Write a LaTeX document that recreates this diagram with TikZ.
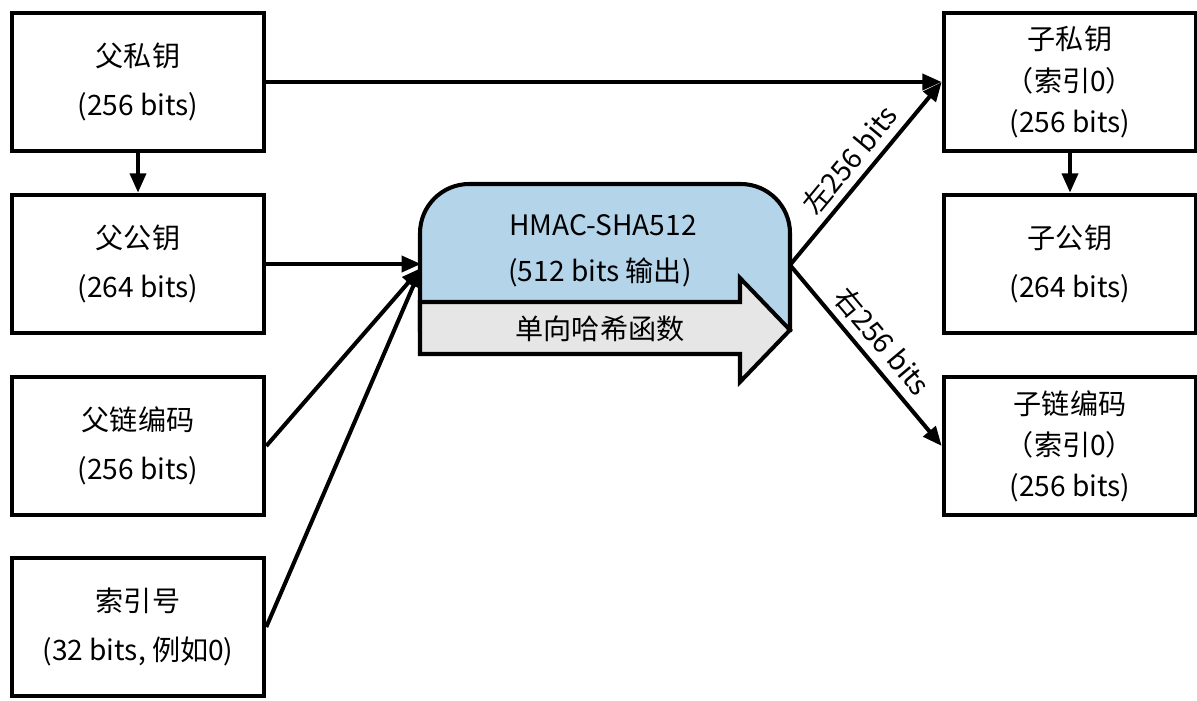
\documentclass[tikz,border=0pt]{standalone}
\usepackage{fontspec}
\setmainfont{Noto Sans CJK SC}
\usetikzlibrary{arrows.meta}
\definecolor{hblue}{RGB}{180,212,234}
\definecolor{hgray}{RGB}{230,230,230}
\begin{document}
\begin{tikzpicture}[x=0.02cm,y=-0.02cm,
  box/.style={draw, line width=2.6pt, minimum width=5.04cm, minimum height=2.76cm, align=center, inner sep=0pt},
  two/.style={font=\fontsize{16}{28}\selectfont},
  three/.style={font=\fontsize{16}{23.4}\selectfont},
  conn/.style={line width=2.3pt, -{Triangle[length=11pt,width=9pt]}},
  lbl/.style={font=\fontsize{16}{18}\selectfont, inner sep=4pt}]
\useasboundingbox (0,0) rectangle (1197,700);
% left column
\node[box,two] (b1) at (138,82) {父私钥\\(256 bits)};
\node[box,two] (b2) at (138,264) {父公钥\\(264 bits)};
\node[box,two] (b3) at (138,446) {父链编码\\(256 bits)};
\node[box,two] (b4) at (138,627) {索引号\\(32 bits, 例如0)};
% right column
\node[box,three] (c1) at (1070,82) {子私钥\\（索引0）\\(256 bits)};
\node[box,two] (c2) at (1070,264) {子公钥\\(264 bits)};
\node[box,three] (c3) at (1070,446) {子链编码\\（索引0）\\(256 bits)};
% HMAC shape
\draw[line width=2.3pt, fill=hblue, rounded corners=28]
  (420,330) -- (420,184) -- (790,184) [sharp corners] -- (790,330) -- cycle;
\draw[line width=2.3pt, fill=hgray, line join=miter]
  (420,302) -- (740,302) -- (740,278) -- (790,330) -- (740,382) -- (740,354) -- (420,354) -- cycle;
\node[font=\fontsize{16}{18}\selectfont] (h1) at (603,225) {HMAC-SHA512};
\node[font=\fontsize{16}{18}\selectfont] (h2) at (600,272) {(512 bits 输出)};
\node[font=\fontsize{16}{18}\selectfont] (h3) at (600,329) {单向哈希函数};
\coordinate (hin) at (421,268);
\coordinate (hout) at (790,265);
% connectors
\draw[conn] (b1.east) -- (c1.west);
\draw[conn] (b1.south) -- (b2.north);
\draw[conn] (c1.south) -- (c2.north);
\draw[conn] (b2.east) -- (hin |- b2.east);
\draw[conn] (b3.east) -- (hin);
\draw[conn] (b4.east) -- (hin);
\draw[conn] (hout) -- node[lbl, sloped, above, pos=0.5] {左256 bits} (c1.west);
\draw[conn] (hout) -- node[lbl, sloped, above, pos=0.5] {右256 bits} (c3.west);
\end{tikzpicture}
\end{document}
